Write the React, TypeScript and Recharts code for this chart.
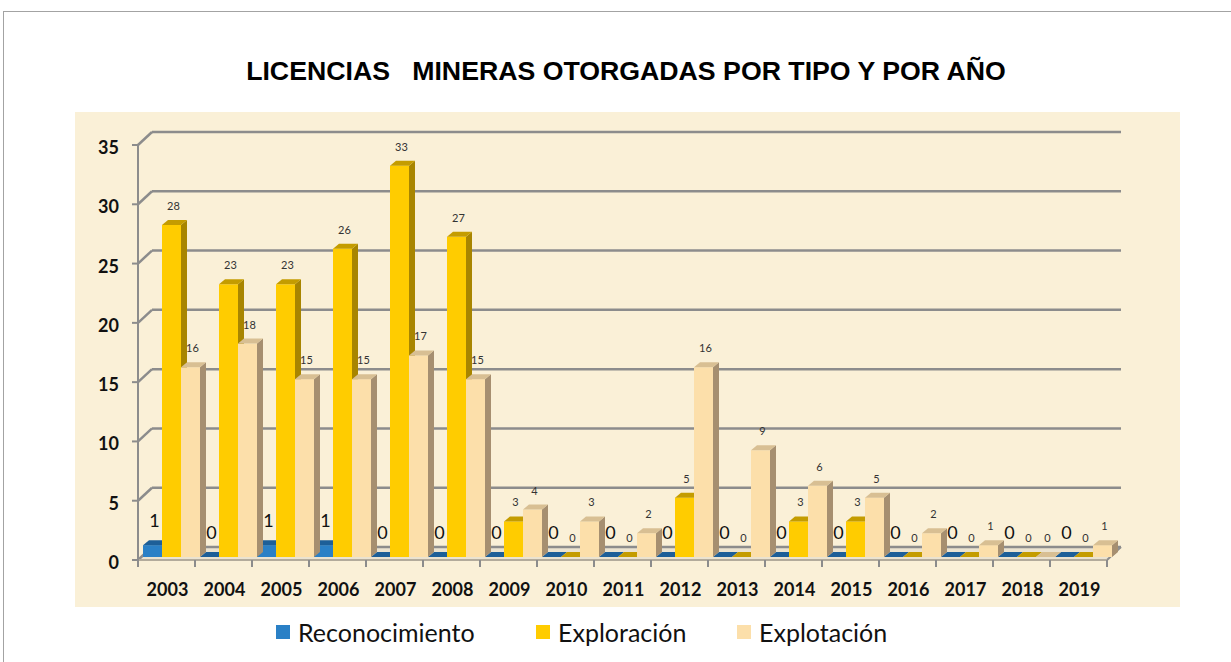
import React from "react";
import { BarChart, Bar, XAxis, YAxis, CartesianGrid, Legend, LabelList } from "recharts";

// values
const years = ["2003", "2004", "2005", "2006", "2007", "2008", "2009", "2010", "2011", "2012", "2013", "2014", "2015", "2016", "2017", "2018", "2019"];
const reconocimiento = [1, 0, 1, 1, 0, 0, 0, 0, 0, 0, 0, 0, 0, 0, 0, 0, 0];
const exploracion = [28, 23, 23, 26, 33, 27, 3, 0, 0, 5, 0, 3, 3, 0, 0, 0, 0];
const explotacion = [16, 18, 15, 15, 17, 15, 4, 3, 2, 16, 9, 6, 5, 2, 1, 0, 1];
const yTicks = [0, 5, 10, 15, 20, 25, 30, 35];
const seriesNames = ["Reconocimiento", "Exploración", "Explotación"];

const data = years.map((year, i) => ({
  year,
  reconocimiento: reconocimiento[i],
  exploracion: exploracion[i],
  explotacion: explotacion[i],
}));

// layout
const W = 1231;
const H = 662;
const PLOT_LEFT = 138;
const PLOT_RIGHT = 1107;
const PLOT_TOP = 145;
const PLOT_BOTTOM = 560;
const WALL_DX = 14;
const WALL_DY = -13;
const BAR_DX = 5;
const BAR_DY = -3;
const DEPTH_X = 6;
const DEPTH_Y = -5;
const BAND = (PLOT_RIGHT - PLOT_LEFT) / years.length;
const GRID = "#8c8c8c";
const FONT = "Lato, 'Open Sans', sans-serif";

const styles = [
  { key: "reconocimiento", front: "#2a80c6", top: "#1d5f98", side: "#1a5588", labelSize: 18, labelGap: 18, labelColor: "#111" },
  { key: "exploracion", front: "#ffcc00", top: "#c49c00", side: "#a88500", labelSize: 11, labelGap: 15, labelColor: "#333" },
  { key: "explotacion", front: "#fcdfaa", top: "#d8bf93", side: "#a68f70", labelSize: 11, labelGap: 15, labelColor: "#333" },
];

type S = (typeof styles)[number];

const makeShape = (s: S) => (p: any) => {
  const x = p.x + BAR_DX;
  const y = p.y + BAR_DY;
  const w = p.width;
  const h = Math.max(p.height || 0, 0);
  const topPts = `${x},${y} ${x + w},${y} ${x + w + DEPTH_X},${y + DEPTH_Y} ${x + DEPTH_X},${y + DEPTH_Y}`;
  const sidePts = `${x + w},${y} ${x + w + DEPTH_X},${y + DEPTH_Y} ${x + w + DEPTH_X},${y + h + DEPTH_Y} ${x + w},${y + h}`;
  return (
    <g>
      {h > 0 && <polygon points={sidePts} fill={s.side} />}
      {h > 0 && <rect x={x} y={y} width={w} height={h} fill={s.front} />}
      <polygon points={topPts} fill={s.top} />
    </g>
  );
};

const makeLabel = (s: S) => (p: any) => {
  const b = p.viewBox && p.viewBox.width != null ? p.viewBox : p;
  const cx = b.x + BAR_DX + b.width / 2 + 2;
  const y = b.y + BAR_DY - s.labelGap;
  return (
    <text x={cx} y={y} textAnchor="middle" fontFamily={FONT} fontSize={s.labelSize} fill={s.labelColor}>
      {String(p.value)}
    </text>
  );
};

const gridLine = (p: any) => {
  const { x1, x2, y1 } = p;
  const isFloor = Math.abs(y1 - PLOT_BOTTOM) < 1;
  return (
    <g key={p.key ?? `g-${y1}`}>
      {isFloor && (
        <polygon
          points={`${x1},${y1} ${x2},${y1} ${x2 + WALL_DX},${y1 + WALL_DY} ${x1 + WALL_DX},${y1 + WALL_DY}`}
          fill="#ebe3d0"
        />
      )}
      <line x1={x1 - 6} y1={y1} x2={x1} y2={y1} stroke={GRID} strokeWidth={2} />
      <line x1={x1} y1={y1} x2={x1 + WALL_DX} y2={y1 + WALL_DY} stroke={GRID} strokeWidth={2.5} />
      <line x1={x1 + WALL_DX} y1={y1 + WALL_DY} x2={x2 + WALL_DX} y2={y1 + WALL_DY} stroke={GRID} strokeWidth={2.5} />
      {isFloor && <line x1={x2} y1={y1} x2={x2 + WALL_DX} y2={y1 + WALL_DY} stroke={GRID} strokeWidth={2} />}
    </g>
  );
};

const YTick = (p: any) => (
  <text x={PLOT_LEFT - 19} y={p.y + 9} textAnchor="end" fontFamily={FONT} fontWeight={700} fontSize={18} fill="#111">
    {p.payload.value}
  </text>
);

const XTick = (p: any) => {
  const last = p.index === years.length - 1;
  return (
    <g>
      <line x1={p.x - BAND / 2} y1={PLOT_BOTTOM} x2={p.x - BAND / 2} y2={PLOT_BOTTOM + 7} stroke={GRID} strokeWidth={2} />
      {last && <line x1={p.x + BAND / 2} y1={PLOT_BOTTOM} x2={p.x + BAND / 2} y2={PLOT_BOTTOM + 7} stroke={GRID} strokeWidth={2} />}
      <text x={p.x + 1} y={PLOT_BOTTOM + 36} textAnchor="middle" fontFamily={FONT} fontWeight={700} fontSize={18} fill="#111">
        {p.payload.value}
      </text>
    </g>
  );
};

const legendWidths = [260, 201, 160];

const LegendContent = () => (
  <div style={{ display: "flex", alignItems: "center", fontFamily: FONT, fontSize: 25, color: "#111" }}>
    {seriesNames.map((name, i) => (
      <div key={name} style={{ width: legendWidths[i], display: "flex", alignItems: "center" }}>
        <span style={{ width: 14, height: 14, background: styles[i].front, display: "inline-block", marginRight: 8 }} />
        <span>{name}</span>
      </div>
    ))}
  </div>
);

export default function App() {
  return (
    <div style={{ position: "absolute", left: 0, top: 0, width: W, height: H, overflow: "hidden", background: "#fff" }}>
      <div style={{ position: "absolute", left: 3, top: 11, width: 1300, height: 700, border: "1px solid #a3a3a3" }} />
      <div style={{ position: "absolute", left: 75, top: 112, width: 1105, height: 495, background: "#faf0d7" }} />
      <div
        style={{
          position: "absolute",
          left: 126,
          top: 55,
          width: 1000,
          textAlign: "center",
          whiteSpace: "pre",
          fontFamily: "'Liberation Sans', Arial, sans-serif",
          fontWeight: 700,
          fontSize: 26.7,
          lineHeight: "32px",
          color: "#000",
        }}
      >
        {"LICENCIAS   MINERAS OTORGADAS POR TIPO Y POR AÑO"}
      </div>
      <div style={{ position: "absolute", left: 0, top: 0 }}>
        <BarChart
          width={W}
          height={H}
          data={data}
          margin={{ top: PLOT_TOP, right: W - PLOT_RIGHT, bottom: 0, left: 0 }}
          barGap={0}
          barCategoryGap={0}
        >
          <CartesianGrid vertical={false} horizontal={gridLine} />
          <XAxis
            dataKey="year"
            height={H - PLOT_BOTTOM}
            axisLine={{ stroke: "#b3ab9b", strokeWidth: 2 }}
            tickLine={false}
            tick={<XTick />}
            interval={0}
          />
          <YAxis
            width={PLOT_LEFT}
            domain={[0, 35]}
            ticks={yTicks}
            axisLine={{ stroke: GRID, strokeWidth: 2 }}
            tickLine={false}
            tick={<YTick />}
          />
          <Legend
            verticalAlign="middle"
            align="center"
            wrapperStyle={{ top: 617, left: 276, width: 700, height: 30 }}
            content={<LegendContent />}
          />
          {styles.map((s, i) => (
            <Bar key={s.key} dataKey={s.key} name={seriesNames[i]} fill={s.front} shape={makeShape(s)} isAnimationActive={false}>
              <LabelList dataKey={s.key} content={makeLabel(s)} />
            </Bar>
          ))}
        </BarChart>
      </div>
    </div>
  );
}
